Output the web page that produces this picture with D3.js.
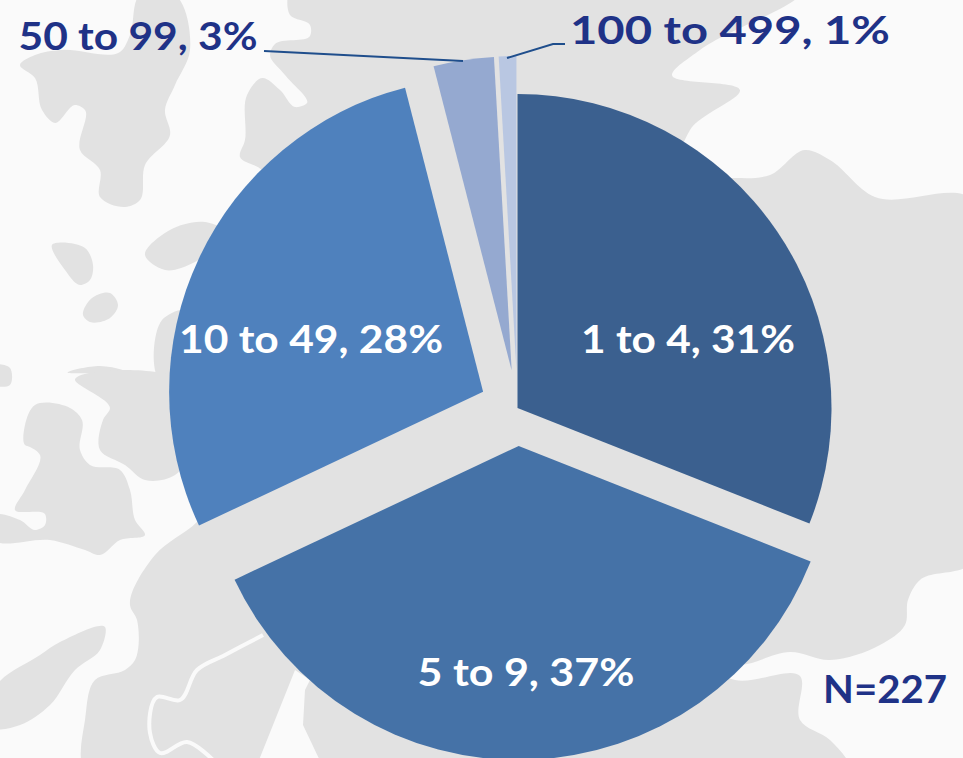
<!DOCTYPE html>
<html><head><meta charset="utf-8">
<script src="https://cdn.jsdelivr.net/npm/d3@7"></script>
<style>html,body{margin:0;padding:0;background:#fafafa;overflow:hidden}svg{display:block}text{font-family:Lato,"Open Sans",sans-serif;font-weight:700}</style>
</head><body><svg id="c" width="963" height="758"></svg>
<script>
const categories = ["1 to 4","5 to 9","10 to 49","50 to 99","100 to 499"];
const shares = [31,37,28,3.1,0.9];
const colors = ["#3b608f","#4572a7","#4f81bd","#95a9d0","#b9c7e2"];
const pulledOut = [0,1,1,1,1];
const landShapes = [
 [[288,-5],[290,15],[310,25],[310,36],[275,44],[270,55],[285,75],[307,103],[295,107],[280,90],[262,78],[247,95],[245,140],[240,157],[262,170],[300,300],[230,480],[197,522],[155,555],[130,605],[137,620],[135,660],[125,670],[95,680],[85,720],[82,765],[850,765],[830,740],[800,720],[800,676],[735,680],[700,660],[740,665],[790,652],[830,660],[880,645],[905,625],[908,600],[920,580],[970,565],[970,197],[875,197],[830,160],[805,150],[770,175],[735,178],[680,170],[690,130],[740,90],[672,75],[700,50],[800,-5]],
 [[140,-5],[175,-5],[190,50],[175,85],[165,110],[170,135],[145,165],[140,200],[125,207],[100,197],[100,170],[80,150],[85,110],[75,105],[55,123],[42,110],[35,78],[20,65],[35,55],[62,50],[120,52],[130,35]],
 [[52,245],[85,248],[93,265],[90,280],[80,285],[65,270]],
 [[145,255],[170,230],[205,222],[230,235],[195,262],[165,270]],
 [[83,315],[92,298],[110,293],[118,305],[110,318],[90,322]],
 [[68,372],[100,366],[150,378],[200,390],[190,380]],
 [[162,320],[185,310],[185,380],[160,380]],
 [[-5,365],[10,368],[10,385],[-5,385]],
 [[25,425],[35,405],[70,408],[82,420],[80,450],[90,465],[120,470],[130,490],[135,520],[145,535],[120,540],[100,555],[85,550],[50,540],[-5,540],[-5,515],[20,520],[35,530],[45,525],[45,514],[15,510],[25,490],[40,455],[30,447],[25,445]],
 [[75,380],[110,408],[103,420],[100,450],[125,465],[145,480],[175,475],[200,420],[180,380]],
 [[-5,688],[40,655],[60,642],[105,627],[100,650],[75,670],[50,705],[20,725],[-5,728]]
];
const channels = [
 [[263,635],[225,655],[197,670],[180,700],[157,697],[150,733],[160,753],[187,742],[213,760]]
];
const clearings = [
 [[295,670],[257,765],[322,765],[303,725],[305,690],[310,680]]
];
const leaders = [
 [[264,51],[463,61]],
 [[507,58],[553,44],[565,44]]
];
const pieTexts = [
 {t:0,x:688,y:353,fill:"#fff",w:214},
 {t:1,x:526,y:686,fill:"#fff",w:217},
 {t:2,x:311,y:353,fill:"#fff",w:264},
 {t:3,x:138,y:50,fill:"#1f3287",w:239},
 {t:4,x:730,y:44,fill:"#1f3287",w:320}
];
const sampleLabel = "N=227";

const svg = d3.select("#c");
svg.append("rect").attr("width",963).attr("height",758).attr("fill","#fafafa");
const smooth = d3.line().curve(d3.curveCatmullRomClosed.alpha(0.7));
svg.append("g").selectAll("path").data(landShapes).join("path").attr("d",smooth).attr("fill","#e2e2e2");
svg.append("g").selectAll("path").data(clearings).join("path").attr("d",d3.line()).attr("fill","#fafafa");
const open = d3.line().curve(d3.curveCatmullRom.alpha(0.7));
svg.append("g").selectAll("path").data(channels).join("path").attr("d",open).attr("fill","none").attr("stroke","#fafafa").attr("stroke-width",4);

const cx=517.5, cy=408, R=314, pull=38;
const arcs = d3.pie().sort(null).value(d=>d)(shares);
const arc = d3.arc().innerRadius(0).outerRadius(R);
svg.append("g").selectAll("path").data(arcs).join("path")
 .attr("d",arc).attr("fill",(d,i)=>colors[i])
 .attr("transform",(d,i)=>{
   const m=(d.startAngle+d.endAngle)/2, k=pulledOut[i]*pull;
   return `translate(${cx+k*Math.sin(m)},${cy-k*Math.cos(m)})`;
 });
const plain = d3.line();
svg.append("g").selectAll("path").data(leaders).join("path").attr("d",plain).attr("fill","none").attr("stroke","#1f4e8c").attr("stroke-width",2);
const fmt = d3.format(".0f");
svg.append("g").selectAll("text").data(pieTexts).join("text")
 .attr("x",d=>d.x).attr("y",d=>d.y).attr("text-anchor","middle").attr("fill",d=>d.fill)
 .attr("font-size",39).attr("textLength",d=>d.w).attr("lengthAdjust","spacingAndGlyphs")
 .text(d=>`${categories[d.t]}, ${fmt(shares[d.t])}%`);
svg.append("text").attr("x",885).attr("y",703).attr("text-anchor","middle").attr("fill","#1f3287")
 .attr("font-size",39).attr("textLength",124).attr("lengthAdjust","spacingAndGlyphs").text(sampleLabel);
</script></body></html>
